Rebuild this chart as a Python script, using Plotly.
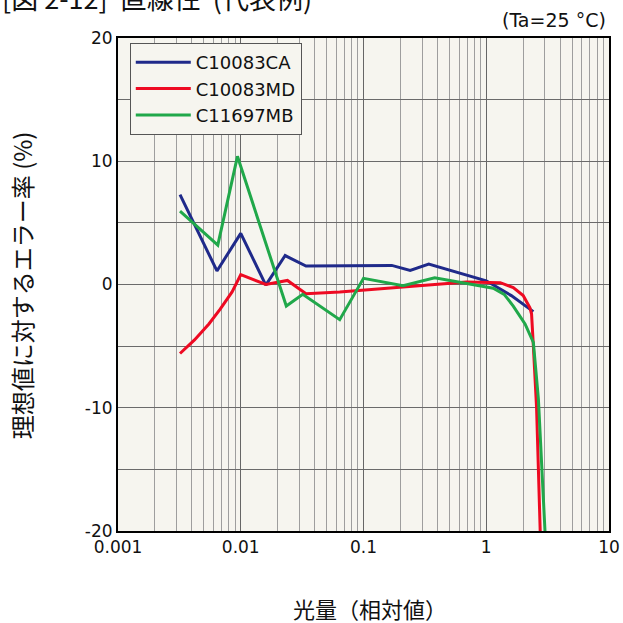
import plotly.graph_objects as go

# Data
x_ca = [0.0032, 0.0064, 0.01, 0.016, 0.023, 0.034, 0.17, 0.24, 0.34, 1.0, 1.6, 2.42]
y_ca = [7.3, 1.1, 4.15, -0.05, 2.35, 1.5, 1.55, 1.15, 1.65, 0.3, -0.9, -2.2]

x_md = [0.0032, 0.0042, 0.0055, 0.0068, 0.0085, 0.01, 0.016, 0.024, 0.034,
        0.064, 0.69, 1.3, 1.66, 2.0, 2.27, 2.34, 2.42, 2.57, 2.66, 2.75, 2.77]
y_md = [-5.6, -4.5, -3.2, -2.0, -0.6, 0.8, 0.0, 0.33, -0.75,
        -0.6, 0.2, 0.15, -0.25, -0.9, -1.9, -2.4, -5.0, -10.0, -15.0, -20.0, -21.0]

x_mb = [0.0032, 0.0065, 0.0094, 0.0235, 0.032, 0.064, 0.1, 0.21, 0.38,
        1.0, 1.14, 1.4, 1.66, 2.07, 2.42, 2.66, 2.83, 3.01, 3.03]
y_mb = [5.95, 3.2, 10.4, -1.75, -0.8, -2.85, 0.5, -0.1, 0.55,
        -0.15, -0.3, -0.8, -1.75, -3.2, -4.7, -9.3, -14.2, -20.0, -21.0]

series_names = ["C10083CA", "C10083MD", "C11697MB"]
series_colors = ["#1f2a8a", "#ee0a22", "#20a84a"]

x_tick_vals = [0.001, 0.01, 0.1, 1, 10]
x_tick_text = ["0.001", "0.01", "0.1", "1", "10"]
y_tick_vals = [-20, -10, 0, 10, 20]
y_tick_text = ["-20", "-10", "0", "10", "20"]

title_text = "[図 2-12]  直線性  (代表例)"
cond_text = "(Ta=25 °C)"
x_title = "光量（相対値）"
y_title = "理想値に対するエラー率 (%)"

bg = "#f6f5ef"
num_font = "DejaVu Sans"
jp_font = "Noto Sans CJK JP"

fig = go.Figure()
for xs, ys, name, col in zip([x_ca, x_md, x_mb], [y_ca, y_md, y_mb], series_names, series_colors):
    fig.add_trace(go.Scatter(x=xs, y=ys, mode="lines", name=name,
                             line=dict(color=col, width=3)))

fig.update_layout(
    width=623, height=623,
    margin=dict(l=118, r=14, t=38, b=92, autoexpand=False),
    paper_bgcolor="white",
    plot_bgcolor=bg,
    font=dict(family=num_font, size=17, color="#111"),
    showlegend=True,
    legend=dict(x=0.024, y=0.99, xanchor="left", yanchor="top",
                bgcolor=bg, bordercolor="#555", borderwidth=1,
                font=dict(family=num_font, size=18, color="#111"),
                tracegroupgap=0, itemwidth=55),
    annotations=[
        dict(text=title_text, xref="paper", yref="paper", x=-0.24, y=1.083,
             xanchor="left", yanchor="middle", showarrow=False,
             font=dict(family=jp_font, size=27, color="#111")),
        dict(text=cond_text, xref="paper", yref="paper", x=0.998, y=1.0365,
             xanchor="right", yanchor="middle", showarrow=False,
             font=dict(family=num_font, size=19, color="#111")),
        dict(text=x_title, xref="paper", yref="paper", x=0.513, y=-0.157,
             xanchor="center", yanchor="middle", showarrow=False,
             font=dict(family=jp_font, size=22, color="#111")),
        dict(text=y_title, xref="paper", yref="paper", x=-0.195, y=0.499,
             xanchor="center", yanchor="middle", showarrow=False, textangle=-90,
             font=dict(family=jp_font, size=24, color="#111")),
    ],
)

fig.update_xaxes(
    type="log", range=[-3, 1], automargin=False, ticklabeloverflow="allow",
    tickvals=x_tick_vals, ticktext=x_tick_text,
    showgrid=True, gridcolor="#666666", gridwidth=1,
    minor=dict(dtick="D1", showgrid=True, gridcolor="#9e9e9e", gridwidth=1, ticks=""),
    showline=True, linecolor="black", linewidth=2, mirror=True,
    ticks="", zeroline=False,
)
fig.update_yaxes(
    range=[-20, 20], automargin=False, ticklabeloverflow="allow",
    tickvals=y_tick_vals, ticktext=y_tick_text,
    showgrid=True, gridcolor="#6a6a6a", gridwidth=1,
    minor=dict(dtick=5, showgrid=True, gridcolor="#6a6a6a", gridwidth=1, ticks=""),
    showline=True, linecolor="black", linewidth=2, mirror=True,
    ticks="", zeroline=False,
)

fig.write_html("out.html", config={"displayModeBar": False},
               post_script="document.body.style.margin='0';document.body.style.overflow='hidden';")
